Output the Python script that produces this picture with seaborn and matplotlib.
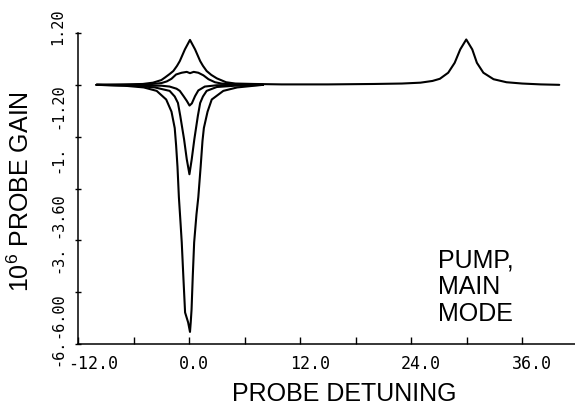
import numpy as np
import pandas as pd
import matplotlib
matplotlib.use('Agg')
import matplotlib.pyplot as plt
import seaborn as sns

# curves (detuning, 10^6 * probe gain)
gain_x = [-10, -7, -5, -3.9, -3.0, -2.6, -2.1, -1.7, -1.3, -1.0, -0.45, 0.1, 0.65,
          1.2, 1.5, 1.9, 2.4, 3.0, 4.0, 5.0, 7, 10, 15, 20, 23, 25, 26.3, 27.1, 28.0,
          28.7, 29.3, 29.95, 30.6, 31.1, 31.8, 32.9, 34.3, 36, 38, 40]
gain_y = [0.0, 0.01, 0.02, 0.05, 0.11, 0.17, 0.25, 0.32, 0.44, 0.55, 0.82, 1.04, 0.82,
          0.55, 0.44, 0.32, 0.23, 0.15, 0.06, 0.03, 0.02, 0.01, 0.01, 0.02, 0.03, 0.05, 0.09,
          0.14, 0.28, 0.51, 0.82, 1.05, 0.82, 0.51, 0.28, 0.13, 0.06, 0.03, 0.01, 0.0]

bump_x = [-10, -6, -4, -3, -2.4, -1.9, -1.4, -0.8, -0.25, 0.1, 0.5, 1.0, 1.55, 2.1, 2.8, 3.5, 5, 8]
bump_y = [0.0, 0.0, 0.02, 0.04, 0.08, 0.14, 0.24, 0.28, 0.30, 0.27, 0.30, 0.28, 0.22, 0.13, 0.06,
          0.03, 0.01, 0.0]

dip_small_x = [-10, -6, -4, -3, -2.1, -1.35, -1.0, -0.6, -0.25, 0.05, 0.3, 0.65, 1.0, 1.7, 3.0, 5, 8]
dip_small_y = [0.0, -0.01, -0.02, -0.02, -0.04, -0.09, -0.14, -0.26, -0.37, -0.48, -0.43, -0.26,
               -0.13, -0.04, -0.01, 0.0, 0.0]

dip_mid_x = [-10, -6, -3.7, -2.1, -1.55, -1.2, -0.95, -0.54, -0.25, 0.04, 0.29, 0.57, 0.95, 1.2,
             1.5, 1.9, 3.0, 5, 8]
dip_mid_y = [0.0, -0.02, -0.06, -0.14, -0.27, -0.42, -0.72, -1.26, -1.72, -2.07, -1.72, -1.26,
             -0.72, -0.42, -0.27, -0.14, -0.05, -0.02, 0.0]

dip_deep_x = [-10, -7, -4.9, -3.5, -2.47, -1.9, -1.55, -1.4, -1.25, -1.1, -0.92, -0.79, -0.62,
              -0.43, -0.1, 0.1, 0.18, 0.27, 0.4, 0.55, 0.8, 1.0, 1.25, 1.45, 1.6, 2.0, 2.45, 3.7,
              5.2, 8]
dip_deep_y = [0.0, -0.02, -0.06, -0.14, -0.34, -0.62, -1.0, -1.4, -1.9, -2.6, -3.2, -3.65, -4.43,
              -5.27, -5.5, -5.72, -5.5, -5.2, -4.43, -3.65, -3.0, -2.6, -1.9, -1.3, -1.0, -0.62,
              -0.34, -0.14, -0.06, 0.0]

x_tick_pos = [-12, 0, 12, 24, 36]
x_tick_text = ['-12.0', '0.0', '12.0', '24.0', '36.0']
# y labels as printed on the plotter (with the stray fragments)
y_label_pos = [1.34, -0.50, -1.72, -3.02, -4.04, -5.33, -6.2]
y_label_text = ['1.20', '-1.20', '-1.', '-3.60', '-3.', '-6.00', '-6.']
pump_pos = 30

sns.set_theme(style='ticks')
plt.rcParams['font.family'] = ['Liberation Sans', 'DejaVu Sans']
plt.rcParams['mathtext.default'] = 'regular'
plt.rcParams['text.color'] = 'black'
plt.rcParams['axes.labelcolor'] = 'black'

curves = {'gain': (gain_x, gain_y), 'bump': (bump_x, bump_y), 'dip_small': (dip_small_x, dip_small_y),
          'dip_mid': (dip_mid_x, dip_mid_y), 'dip_deep': (dip_deep_x, dip_deep_y)}
df = pd.concat([pd.DataFrame({'detuning': x, 'gain': y, 'curve': k}) for k, (x, y) in curves.items()],
               ignore_index=True)

fig = plt.figure(figsize=(5.75, 4.08), dpi=100)
ax = fig.add_axes([78 / 575, 64 / 408, 497 / 575, 311 / 408])
sns.lineplot(data=df, x='detuning', y='gain', units='curve', estimator=None, sort=False,
             color='black', lw=1.5, ax=ax)

ax.set_xlim(-12, 41.7)
ax.set_ylim(-6.0, 1.2)
sns.despine(ax=ax)
for s in ['left', 'bottom']:
    ax.spines[s].set_linewidth(1.1)
    ax.spines[s].set_color('black')

ax.set_xticks(np.arange(-12, 37, 6))
ax.set_xticklabels([])
ax.set_xticks([pump_pos], minor=True)
ax.set_yticks(np.arange(-6.0, 1.3, 1.2))
ax.set_yticklabels([])
ax.tick_params(axis='x', which='major', direction='in', length=5, width=1.0, color='black')
ax.tick_params(axis='x', which='minor', direction='inout', length=13, width=1.3, color='black')
ax.tick_params(axis='y', direction='inout', length=4, width=1.0, color='black')

mono = ['DejaVu Sans Mono']
xt = ax.get_xaxis_transform()
for p, t in zip(x_tick_pos, x_tick_text):
    ax.text(p - 1.1, -0.065, t, transform=xt, ha='left', va='center', fontsize=12, family=mono)
yt = ax.get_yaxis_transform()
for p, t in zip(y_label_pos, y_label_text):
    ax.text(-0.04, p, t, transform=yt, ha='center', va='center', rotation=90, fontsize=11,
            family=mono, clip_on=False)

ax.set_xlabel('PROBE DETUNING', fontsize=18)
ax.xaxis.set_label_coords(0.536, -0.122)
ax.set_ylabel('$10^6$ PROBE GAIN', fontsize=18)
ax.yaxis.set_label_coords(-0.088, 0.49)

ax.text(26.9, -3.78, 'PUMP,\nMAIN\nMODE', ha='left', va='top', fontsize=18, linespacing=1.15)

fig.savefig('out.png', dpi=100)
